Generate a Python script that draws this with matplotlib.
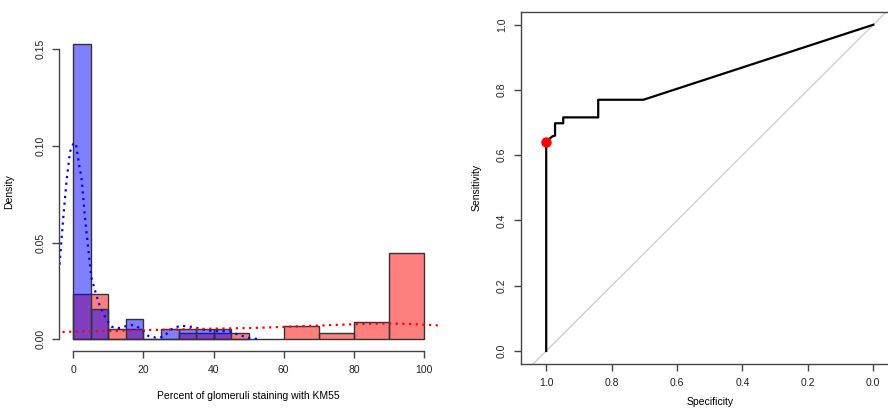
import numpy as np
import matplotlib
matplotlib.use('Agg')
import matplotlib.pyplot as plt

plt.rcParams['font.family'] = ['Liberation Sans', 'DejaVu Sans']

# histogram of KM55 staining (density), two groups
blue_left = [0, 5, 10, 15, 20, 25, 30, 35, 40, 45]
blue_dens = [0.1526, 0.0158, 0, 0.0105, 0, 0.0053, 0.0053, 0.0053, 0.0053, 0]
red_left = [0, 10, 20, 30, 40, 50, 60, 70, 80, 90]
red_dens = [0.0233, 0.0051, 0, 0.0034, 0.0034, 0, 0.0069, 0.0034, 0.0087, 0.0445]

# kernel density curves
blue_kx = [-5, -4, -2.85, -1.9, -0.94, 0, 0.7, 1.43, 2.4, 3.3, 4.3, 5.2, 6.7, 7.6, 9.5,
           10.9, 13, 15, 16.6, 18, 19.5, 21.4, 23.5, 25.6, 27, 28.4, 30.8, 34, 37,
           40, 44.5, 47.4, 50, 53]
blue_ky = [0.025, 0.037, 0.0634, 0.0824, 0.097, 0.101, 0.1015, 0.0927, 0.0824, 0.0634,
           0.046, 0.0315, 0.022, 0.017, 0.010, 0.0065, 0.0058, 0.0068, 0.0074, 0.0068,
           0.0050, 0.0017, 0.0009, 0.0012, 0.0035, 0.0059, 0.007, 0.0064, 0.005,
           0.0042, 0.0042, 0.0021, 0.0008, 0.0]
red_kx = [-5, -4, 10, 20, 30, 40, 50, 60, 70, 80, 88, 95, 104, 106]
red_ky = [0.0038, 0.0038, 0.0043, 0.0047, 0.0051, 0.0055, 0.0058, 0.0064, 0.0071,
          0.0078, 0.0082, 0.0080, 0.0072, 0.0071]

# ROC curve (specificity, sensitivity)
spec = [1.0, 1.0, 0.981, 0.973, 0.973, 0.948, 0.948, 0.841, 0.841, 0.703, 0.0]
sens = [0.0, 0.642, 0.658, 0.660, 0.698, 0.698, 0.716, 0.716, 0.770, 0.770, 1.0]
best_spec, best_sens = 1.0, 0.642

W, H = 888, 408
fig = plt.figure(figsize=(W / 100, H / 100), dpi=100)

axc = '#444444'
fs = 7.5

# ---- left: histograms ----
ax1 = fig.add_axes([59.3 / W, (H - 351.1) / H, 378.7 / W, 318.8 / H])
ax1.bar(red_left, red_dens, width=10, align='edge', color=(1, 0, 0, 0.5),
        edgecolor='#333333', linewidth=1)
ax1.bar(blue_left, blue_dens, width=5, align='edge', color=(0, 0, 1, 0.5),
        edgecolor='#333333', linewidth=1)
ax1.plot(blue_kx, blue_ky, color='blue', linestyle=(0, (1, 2)), linewidth=1.6)
ax1.plot(red_kx, red_ky, color='red', linestyle=(0, (1, 2)), linewidth=1.6)
ax1.set_xlim(-4, 104)
ax1.set_ylim(-0.0061, 0.1587)
ax1.spines[['top', 'right']].set_visible(False)
ax1.spines['left'].set_bounds(0, 0.15)
ax1.spines['bottom'].set_bounds(0, 100)
ax1.set_xticks([0, 20, 40, 60, 80, 100])
ax1.set_yticks([0.0, 0.05, 0.10, 0.15])
ax1.set_yticklabels(['0.00', '0.05', '0.10', '0.15'], rotation=90, va='center')
ax1.set_xlabel('Percent of glomeruli staining with KM55', fontsize=fs)
ax1.set_ylabel('Density', fontsize=fs)
ax1.xaxis.set_label_coords(0.5, -0.125)
ax1.yaxis.set_label_coords(-0.1196, 0.5)

# ---- right: ROC ----
ax2 = fig.add_axes([520.7 / W, (H - 364) / H, 378.1 / W, 352.3 / H])
ax2.axline((1, 0), (0, 1), color='#d0d0d0', linewidth=1)
ax2.plot(spec, sens, color='black', linewidth=1.6)
ax2.plot([best_spec], [best_sens], 'o', color='red', markersize=6.5)
ax2.set_xlim(1.078, -0.078)
ax2.set_ylim(-0.04, 1.04)
ax2.set_xticks([1.0, 0.8, 0.6, 0.4, 0.2, 0.0])
ax2.set_xticklabels(['1.0', '0.8', '0.6', '0.4', '0.2', '0.0'])
ax2.set_yticks([0.0, 0.2, 0.4, 0.6, 0.8, 1.0])
ax2.set_yticklabels(['0.0', '0.2', '0.4', '0.6', '0.8', '1.0'], rotation=90, va='center')
ax2.set_xlabel('Specificity', fontsize=fs)
ax2.set_ylabel('Sensitivity', fontsize=fs)
ax2.xaxis.set_label_coords(0.5, -0.094)
ax2.yaxis.set_label_coords(-0.103, 0.5)

for ax in (ax1, ax2):
    for s in ax.spines.values():
        s.set_color(axc)
        s.set_linewidth(1)
    ax.tick_params(direction='out', length=5, width=1, color=axc,
                   labelsize=fs, pad=5, labelcolor='#222222')

fig.savefig('out.png', dpi=100)
